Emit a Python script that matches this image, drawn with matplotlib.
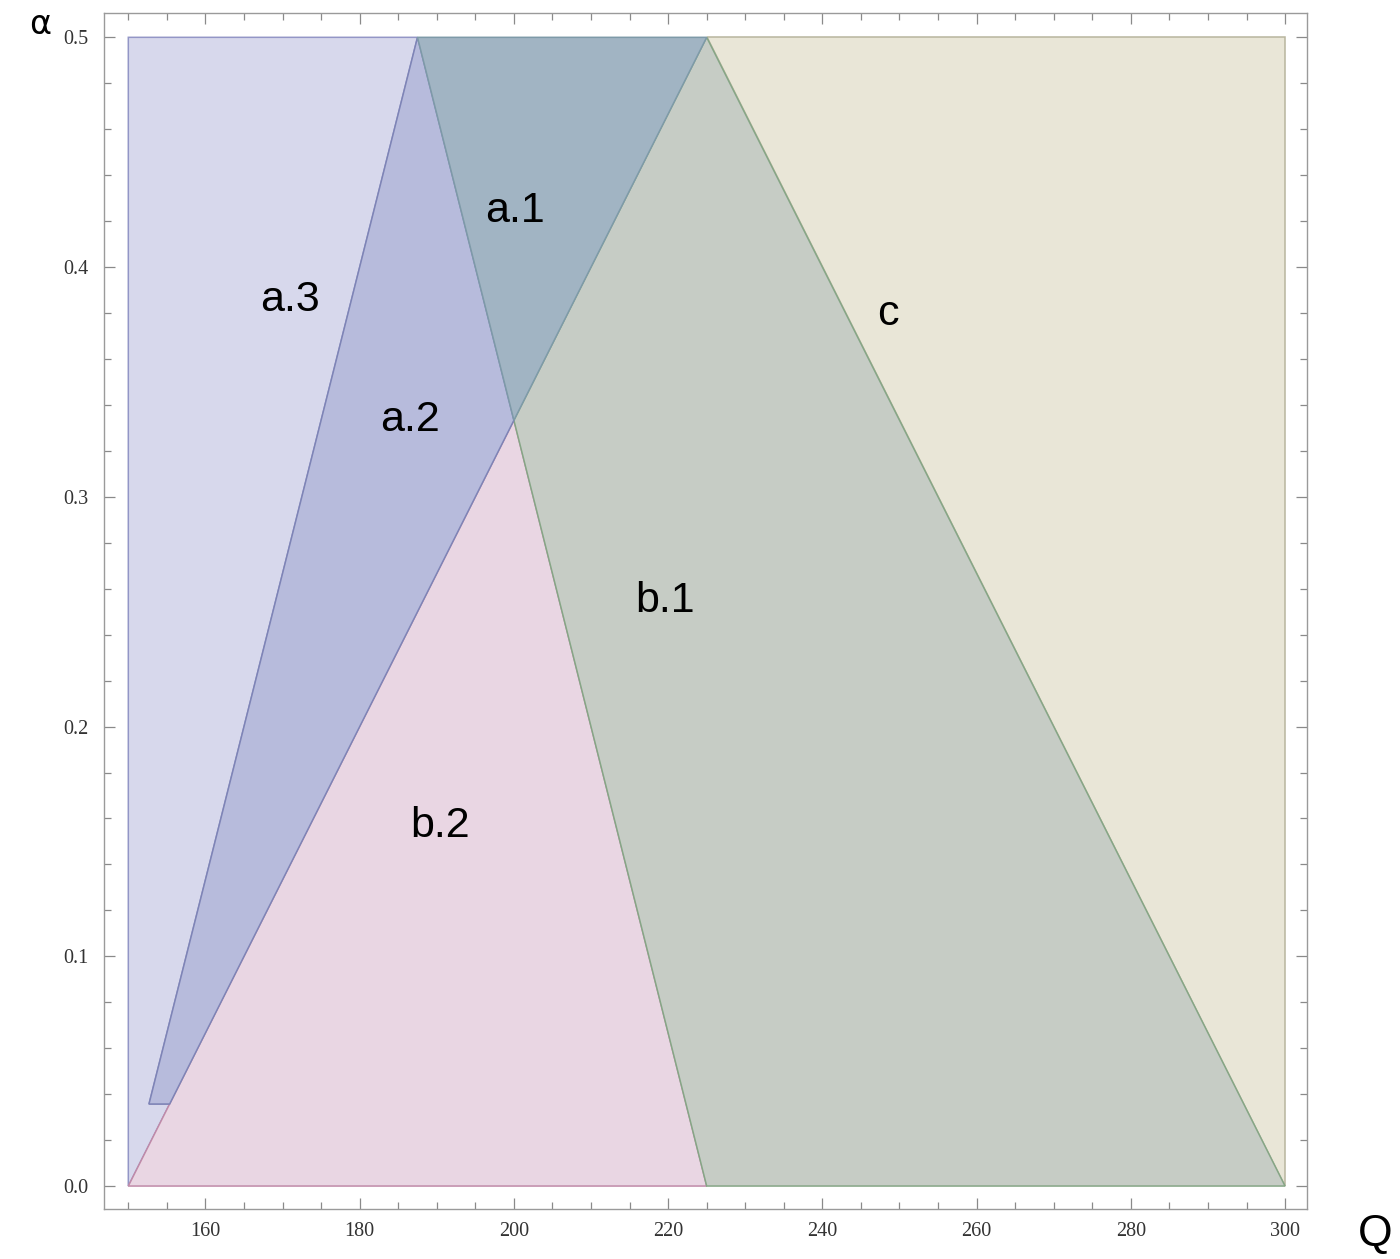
import numpy as np
import matplotlib.pyplot as plt
from matplotlib.patches import Polygon
from matplotlib.ticker import MultipleLocator

# region vertices in (Q, alpha)
a3_q = [150, 150, 187.5, 152.68, 155.36]
a3_a = [0.0, 0.5, 0.5, 0.0357, 0.0357]
a2_q = [152.68, 187.5, 200, 155.36]
a2_a = [0.0357, 0.5, 0.3333, 0.0357]
a1_q = [187.5, 225, 200]
a1_a = [0.5, 0.5, 0.3333]
b2_q = [150, 200, 225]
b2_a = [0.0, 0.3333, 0.0]
b1_q = [200, 225, 300, 225]
b1_a = [0.3333, 0.5, 0.0, 0.0]
c_q = [225, 300, 300]
c_a = [0.5, 0.5, 0.0]

# label text and positions
labels = ['a.1', 'a.2', 'a.3', 'b.1', 'b.2', 'c']
label_q = [200.1, 186.5, 171.0, 219.6, 190.4, 248.5]
label_a = [0.4245, 0.3335, 0.3855, 0.2545, 0.1565, 0.3795]

x_major = np.arange(160, 301, 20)
y_major = np.arange(0.0, 0.51, 0.1)

fig = plt.figure(figsize=(14, 12.59), dpi=100)
ax = fig.add_axes([0.0743, 0.0397, 0.8593, 0.9500])

regions = [
    (a3_q, a3_a, '#D7D8EC', '#9396C6'),
    (c_q, c_a, '#E9E6D7', '#B8B59E'),
    (b2_q, b2_a, '#E9D6E3', '#C08AA8'),
    (b1_q, b1_a, '#C6CCC5', '#86A686'),
    (a2_q, a2_a, '#B7BBDC', '#7E84B6'),
    (a1_q, a1_a, '#A1B4C3', '#7E9AA8'),
]
for q, a, fc, ec in regions:
    ax.add_patch(Polygon(np.column_stack([q, a]), closed=True,
                         facecolor=fc, edgecolor=ec, linewidth=1.1))

for txt, q, a in zip(labels, label_q, label_a):
    ax.text(q, a, txt, fontsize=31, family='Liberation Sans',
            ha='center', va='center', color='black')

ax.set_xlim(146.85, 302.85)
ax.set_ylim(-0.010, 0.5106)

ax.set_xticks(x_major)
ax.set_yticks(y_major)
ax.set_yticklabels(['%.1f' % v for v in y_major])
ax.xaxis.set_minor_locator(MultipleLocator(5))
ax.yaxis.set_minor_locator(MultipleLocator(0.02))
ax.tick_params(which='both', direction='in', top=True, right=True,
               color='#8a8a8a', width=0.9)
ax.tick_params(which='major', length=8)
ax.tick_params(which='minor', length=5)
ax.tick_params(axis='x', which='major', pad=9)
ax.tick_params(axis='y', which='major', pad=11)
for lab in ax.get_xticklabels() + ax.get_yticklabels():
    lab.set_family('Liberation Serif')
    lab.set_fontsize(14.5)
    lab.set_color('#333333')
for sp in ax.spines.values():
    sp.set_color('#9a9a9a')
    sp.set_linewidth(1.0)

fig.text(40 / 1400, 1 - 25 / 1259, '\u03b1', fontsize=24,
         ha='center', va='center', family='DejaVu Sans')
fig.text(1375 / 1400, 1 - 1235 / 1259, 'Q', fontsize=32,
         ha='center', va='center', family='Liberation Sans')

fig.savefig('out.png', dpi=100)
